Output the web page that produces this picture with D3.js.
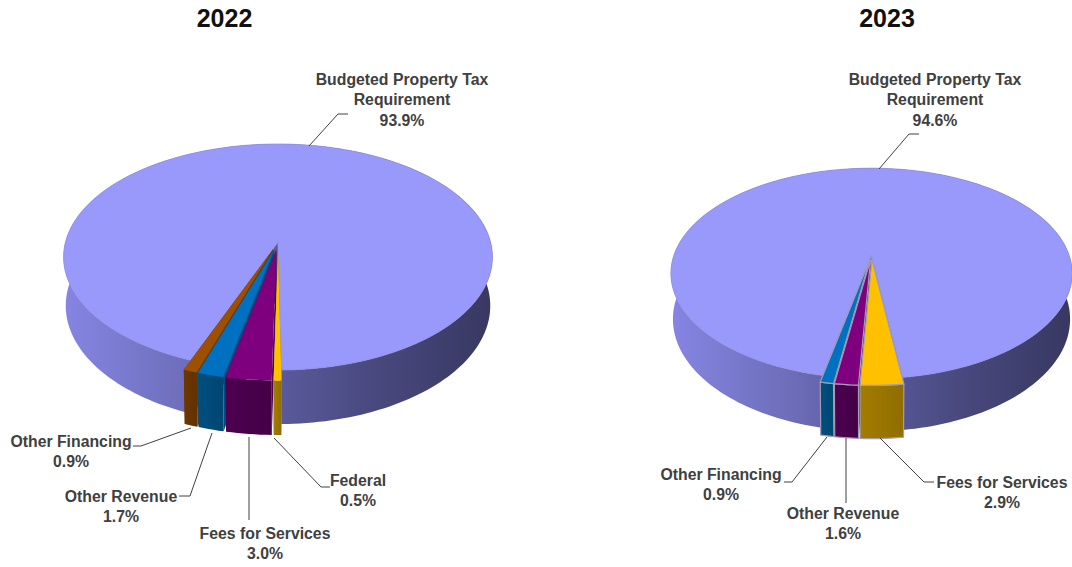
<!DOCTYPE html>
<html>
<head>
<meta charset="utf-8">
<script src="https://d3js.org/d3.v7.min.js"></script>
<style>
  html, body { margin: 0; background: #fff; }
  svg { display: block; }
  text { font-family: "Liberation Sans", Arial, sans-serif; font-weight: bold; fill: #404040; text-anchor: middle; }
  .title { fill: #111; font-size: 25px; }
  .label { font-size: 17px; }
</style>
</head>
<body>
<svg id="chart" width="1072" height="567"></svg>
<script>
// values, front slices first (going clockwise from the front of the pie)
var years = ["2022", "2023"];
var categories2022 = ["Federal", "Fees for Services", "Other Revenue", "Other Financing", "Budgeted Property Tax Requirement"];
var values2022 = [0.5, 3.0, 1.7, 0.9, 93.9];
var categories2023 = ["Fees for Services", "Other Revenue", "Other Financing", "Budgeted Property Tax Requirement"];
var values2023 = [2.9, 1.6, 0.9, 94.6];

var topColors = { yellow: "#ffc000", purple: "#7f007f", blue: "#0070c0", brown: "#9c5000" };
var wallColors = { yellow: "#a37c00", purple: "#4d0050", blue: "#004f80", brown: "#6d3800" };
var colors2022 = ["yellow", "purple", "blue", "brown"];
var colors2023 = ["yellow", "purple", "blue"];

// how each pie sits on the page. k is the perspective strength
var pie2022 = { cx: 278, cy: 242, R: 212.5, Ry: 111, k: 0.133, D: 48, start: -0.8, explode: 0.07, edge: "none" };
var pie2023 = { cx: 871.5, cy: 255, R: 197.5, Ry: 102, k: 0.175, D: 44.5, start: -7.6, explode: 0.045, edge: "#a49cb4" };

// text and leader lines
var labels2022 = [
  { lines: ["Budgeted Property Tax", "Requirement", "93.9%"], x: 402, y: 85, leader: [[309, 146], [338, 114], [348, 114]] },
  { lines: ["Other Financing", "0.9%"], x: 71, y: 447, leader: [[191, 428], [141, 446], [133, 446]] },
  { lines: ["Other Revenue", "1.7%"], x: 121, y: 502, leader: [[212, 433], [190, 496], [179, 496]] },
  { lines: ["Fees for Services", "3.0%"], x: 265, y: 539, leader: [[249, 437], [249, 520]] },
  { lines: ["Federal", "0.5%"], x: 358, y: 486, leader: [[274, 438], [321, 487], [330, 487]] }
];
var labels2023 = [
  { lines: ["Budgeted Property Tax", "Requirement", "94.6%"], x: 935, y: 85, leader: [[879, 169], [909, 134], [919, 134]] },
  { lines: ["Other Financing", "0.9%"], x: 721, y: 480, leader: [[827, 437], [792, 482], [784, 482]] },
  { lines: ["Other Revenue", "1.6%"], x: 843, y: 519, leader: [[846, 438], [846, 503]] },
  { lines: ["Fees for Services", "2.9%"], x: 1002, y: 488, leader: [[880, 438], [924, 482], [934, 482]] }
];

var svg = d3.select("#chart");
var defs = svg.append("defs");
var line = d3.line();
var rad = Math.PI / 180;

function drawPie(id, p, values, colorNames) {
  var g = svg.append("g");

  // 3d spot on the disc -> screen. v points at the viewer, u to the right
  function project(u, v, bottom) {
    var s = 1 / (1 - p.k * v);
    var shrink = bottom ? 0.99 : 1;
    return [p.cx + p.R * u * s * shrink, p.cy + p.Ry * v * s * shrink + (bottom ? p.D * s : 0)];
  }

  var angle = d3.scaleLinear().domain([0, 1]);
  var slices = d3.pie().sort(null)
    .startAngle(p.start * rad)
    .endAngle(p.start * rad + 2 * Math.PI)(values);

  function rimAngles(d) {
    var n = Math.max(2, Math.ceil((d.endAngle - d.startAngle) / (1.5 * rad)));
    angle.range([d.startAngle, d.endAngle]);
    return d3.range(n + 1).map(function (i) { return angle(i / n); });
  }

  function shape(d, off) {
    var mid = (d.startAngle + d.endAngle) / 2;
    var ou = off ? -Math.sin(mid) * off : 0, ov = off ? Math.cos(mid) * off : 0;
    var at = function (a, r, bottom) { return project(-Math.sin(a) * r + ou, Math.cos(a) * r + ov, bottom); };
    var as = rimAngles(d);
    return {
      top: as.map(function (a) { return at(a, 1, false); }).concat([at(0, 0, false)]),
      wall: as.map(function (a) { return at(a, 1, false); })
        .concat(as.slice().reverse().map(function (a) { return at(a, 1, true); })),
      faceA: [at(0, 0, false), at(d.startAngle, 1, false), at(d.startAngle, 1, true), at(0, 0, true)],
      faceB: [at(0, 0, false), at(d.endAngle, 1, false), at(d.endAngle, 1, true), at(0, 0, true)]
    };
  }

  // big slice first
  var main = slices[slices.length - 1];
  var mainShape = shape(main, 0);
  var grad = defs.append("linearGradient").attr("id", "wall" + id)
    .attr("gradientUnits", "userSpaceOnUse")
    .attr("x1", p.cx - p.R).attr("x2", p.cx + p.R).attr("y1", 0).attr("y2", 0);
  [[0, "#8585e2"], [0.27, "#6f6fbd"], [0.5, "#5a5a9c"], [0.75, "#47477c"], [1, "#383862"]].forEach(function (s) {
    grad.append("stop").attr("offset", s[0]).attr("stop-color", s[1]);
  });
  g.append("path").attr("d", line(mainShape.wall) + "Z").attr("fill", "url(#wall" + id + ")");
  g.append("path").attr("d", line(mainShape.faceA) + "Z").attr("fill", "#5c5c9c");
  g.append("path").attr("d", line(mainShape.faceB) + "Z").attr("fill", "#6c6cb4");
  g.append("path").attr("d", line(mainShape.top) + "Z")
    .attr("fill", "#9999fb").attr("stroke", "#9090e0").attr("stroke-width", 0.8);

  // pulled out front slices, left one first
  slices.slice(0, -1).reverse().forEach(function (d, i) {
    var c = colorNames[colorNames.length - 1 - i];
    var s = shape(d, p.explode);
    var gid = "w" + id + c;
    var wg = defs.append("linearGradient").attr("id", gid);
    wg.append("stop").attr("offset", 0).attr("stop-color", wallColors[c]);
    wg.append("stop").attr("offset", 1).attr("stop-color", d3.color(wallColors[c]).darker(0.35));
    var sw = p.edge === "none" ? 0 : 1.2;
    g.append("path").attr("d", line(s.faceA) + "Z").attr("fill", wallColors[c]);
    g.append("path").attr("d", line(s.faceB) + "Z").attr("fill", wallColors[c]);
    g.append("path").attr("d", line(s.wall) + "Z").attr("fill", "url(#" + gid + ")")
      .attr("stroke", p.edge).attr("stroke-width", sw);
    g.append("path").attr("d", line(s.top) + "Z").attr("fill", topColors[c])
      .attr("stroke", p.edge).attr("stroke-width", sw);
  });
}

function drawLabels(labels) {
  labels.forEach(function (l) {
    svg.append("path").attr("d", line(l.leader)).attr("fill", "none")
      .attr("stroke", "#404040").attr("stroke-width", 1);
    var t = svg.append("text").attr("class", "label")
      .attr("transform", "translate(" + l.x + "," + l.y + ") scale(0.93,1)");
    l.lines.forEach(function (s, i) {
      t.append("tspan").attr("x", 0).attr("y", i * 20.5).text(s);
    });
  });
}

drawPie("a", pie2022, values2022, colors2022);
drawPie("b", pie2023, values2023, colors2023);
drawLabels(labels2022);
drawLabels(labels2023);

svg.selectAll(".title").data(years).enter().append("text")
  .attr("class", "title")
  .attr("x", function (d, i) { return [224.5, 887][i]; })
  .attr("y", 27)
  .text(function (d) { return d; });
</script>
</body>
</html>
